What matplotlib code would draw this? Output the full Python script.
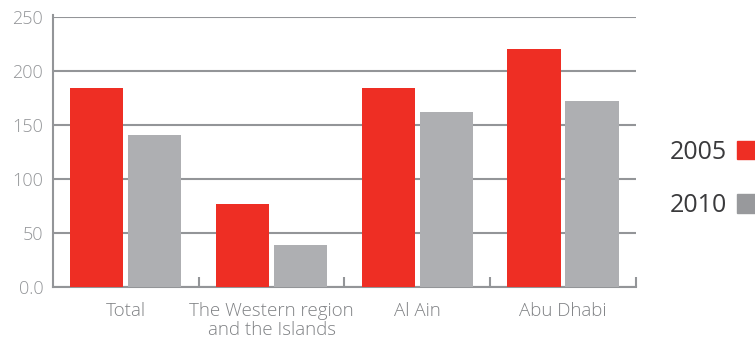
import numpy as np
import matplotlib.pyplot as plt
from matplotlib.patches import Patch

plt.rcParams['font.family'] = ['Open Sans', 'DejaVu Sans']

regions = ['Total', 'The Western region\nand the Islands', 'Al Ain', 'Abu Dhabi']
v2005 = [184, 77, 184, 220]
v2010 = [141, 39, 162, 172]
years = ['2005', '2010']

red = '#EE2E24'
grey = '#AEAFB2'
line = '#939598'

fig = plt.figure(figsize=(7.55, 3.41), dpi=100)
ax = fig.add_axes([0.0702, 0.1584, 0.7720, 0.7916])

x = np.arange(len(regions))
w = 0.364
ax.bar(x - 0.199, v2005, w, color=red, zorder=3)
ax.bar(x + 0.199, v2010, w, color=grey, zorder=3)

ax.set_xlim(-0.5, 3.5)
ax.set_ylim(0, 250)
ax.set_yticks(np.arange(0, 251, 50))
ax.set_yticklabels(['0.0', '50', '100', '150', '200', '250'])
ax.set_xticks(x)
ax.set_xticklabels(regions)
ax.set_xticks(np.arange(0.5, 4, 1), minor=True)
ax.tick_params(axis='x', which='major', length=0, pad=11, labelsize=13.5, labelcolor='#808285')
ax.tick_params(axis='x', which='minor', direction='in', length=7, width=1.5, color=line)
ax.tick_params(axis='y', length=0, pad=7, labelsize=13, labelcolor='#939598')
for lab in ax.get_xticklabels() + ax.get_yticklabels():
    lab.set_fontweight('light')
    lab.set_linespacing(1.05)

ax.yaxis.grid(True, color=line, linewidth=1.5, zorder=0)
for s in ['top', 'right']:
    ax.spines[s].set_visible(False)
ax.spines['left'].set_color(line)
ax.spines['bottom'].set_color(line)
ax.spines['left'].set_linewidth(1.5)
ax.spines['bottom'].set_linewidth(1.5)
ax.spines['left'].set_bounds(0, 252)

handles = [Patch(color=red), Patch(color='#98999C')]
leg = fig.legend(handles, years, loc='center left', bbox_to_anchor=(0.871, 0.475),
                 frameon=False, markerfirst=False, fontsize=18,
                 handlelength=0.76, handleheight=0.76, handletextpad=0.4,
                 labelspacing=1.15, borderpad=0)
for t in leg.get_texts():
    t.set_color('#3a3a3c')

fig.savefig('out.png', dpi=100)
